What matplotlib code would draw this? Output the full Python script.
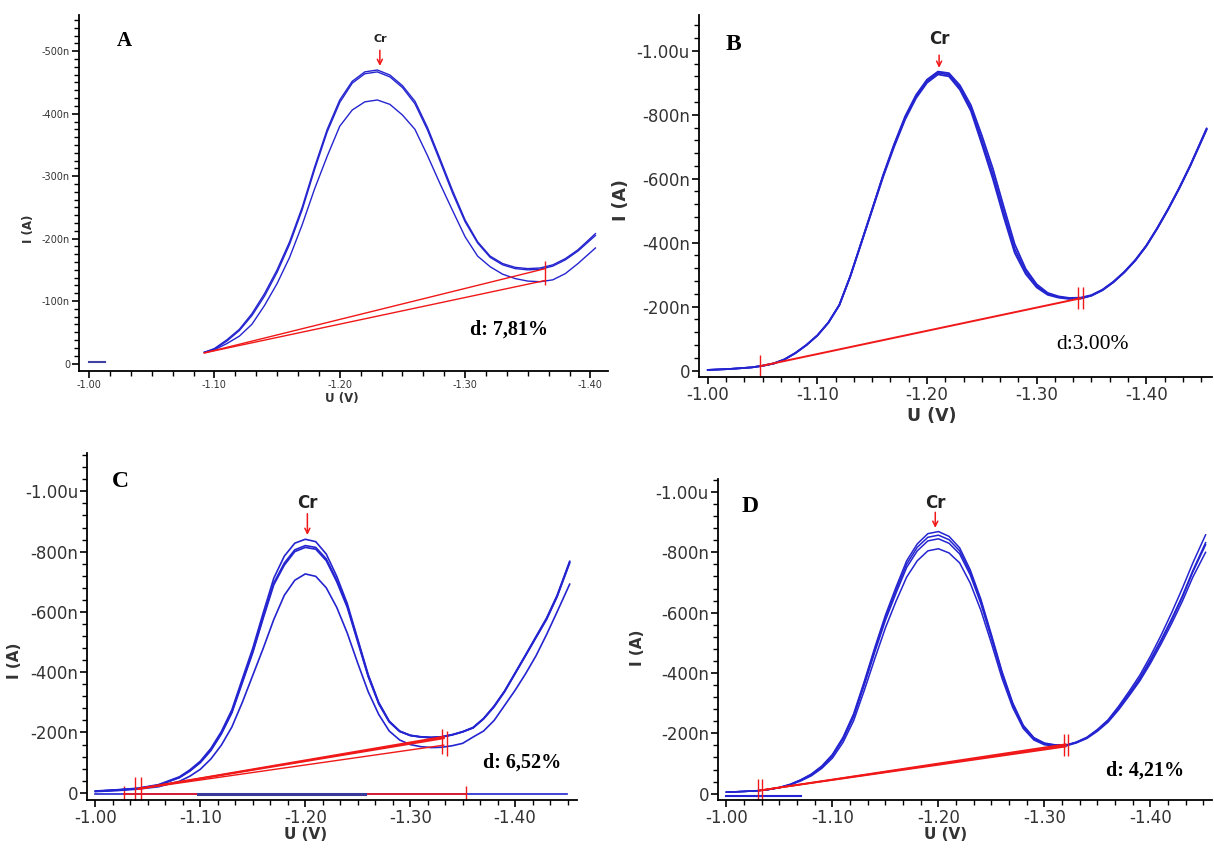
import numpy as np
import matplotlib
matplotlib.use('Agg')
import matplotlib.pyplot as plt
from matplotlib.ticker import MultipleLocator, FuncFormatter

# ---- panel A (current in nA, potential in V) ----
U_A = [-1.092, -1.10, -1.11, -1.12, -1.13, -1.14, -1.15, -1.16, -1.17, -1.18, -1.19, -1.20, -1.21, -1.22,
       -1.23, -1.24, -1.25, -1.26, -1.27, -1.28, -1.29, -1.30, -1.31, -1.32, -1.33, -1.34, -1.35, -1.36,
       -1.37, -1.38, -1.39, -1.404]
I_A1 = [-18, -24, -38, -55, -80, -112, -150, -195, -250, -315, -375, -422, -452, -467, -470, -462, -445,
        -420, -378, -328, -277, -230, -195, -172, -160, -154, -152, -153, -158, -168, -182, -208]
I_A2 = [-18, -23, -36, -53, -77, -108, -146, -191, -246, -311, -371, -418, -449, -464, -467, -459, -442,
        -416, -374, -324, -273, -227, -193, -170, -158, -152, -150, -151, -156, -166, -180, -205]
I_A3 = [-18, -22, -32, -44, -63, -93, -128, -170, -222, -280, -332, -380, -406, -419, -422, -415, -398,
        -375, -333, -288, -245, -203, -172, -155, -143, -136, -132, -131, -134, -144, -160, -185]
base_A_U = [-1.092, -1.364]
base_A_I1 = [-17, -152]
base_A_I2 = [-17, -133]
mark_A_U = [-1.364]
mark_A_I = [-145]
dash_A_U = [-1.000, -1.013]
dash_A_I = [-2, -2]

# ---- panel B ----
U_B = [-1.00, -1.02, -1.04, -1.05, -1.06, -1.07, -1.08, -1.09, -1.10, -1.11, -1.12, -1.13, -1.14, -1.15,
       -1.16, -1.17, -1.18, -1.19, -1.20, -1.21, -1.22, -1.23, -1.24, -1.25, -1.26, -1.27, -1.28, -1.29,
       -1.30, -1.31, -1.32, -1.33, -1.34, -1.35, -1.36, -1.37, -1.38, -1.39, -1.40, -1.41, -1.42, -1.43,
       -1.44, -1.455]
I_B1 = [-2, -5, -10, -15, -22, -35, -55, -80, -110, -150, -205, -295, -400, -505, -610, -705, -790, -858,
        -905, -931, -925, -885, -820, -720, -615, -495, -380, -310, -265, -240, -230, -225, -226, -235,
        -252, -277, -308, -345, -390, -445, -505, -570, -640, -755]
I_B2 = [-2, -5, -10, -15, -22, -35, -55, -80, -110, -150, -205, -295, -400, -505, -612, -708, -795, -862,
        -910, -935, -930, -892, -830, -735, -632, -512, -395, -318, -270, -243, -232, -227, -228, -236,
        -253, -278, -309, -346, -391, -446, -506, -571, -641, -757]
I_B3 = [-2, -5, -10, -15, -22, -35, -55, -80, -110, -150, -205, -295, -398, -502, -606, -700, -785, -852,
        -900, -926, -920, -878, -812, -708, -600, -480, -368, -302, -260, -237, -228, -224, -225, -234,
        -251, -276, -307, -344, -389, -444, -504, -569, -639, -753]
base_B_U = [-1.048, -1.34]
base_B_I = [-14, -226]
mark_B_U = [-1.048, -1.338, -1.342]
mark_B_I = [-14, -226, -226]

# ---- panel C ----
U_C = [-1.00, -1.02, -1.04, -1.06, -1.08, -1.09, -1.10, -1.11, -1.12, -1.13, -1.14, -1.15, -1.16, -1.17,
       -1.18, -1.19, -1.20, -1.21, -1.22, -1.23, -1.24, -1.25, -1.26, -1.27, -1.28, -1.29, -1.30, -1.31,
       -1.32, -1.33, -1.34, -1.35, -1.36, -1.37, -1.38, -1.39, -1.40, -1.41, -1.42, -1.43, -1.44, -1.452]
I_C1 = [-5, -9, -14, -25, -50, -72, -100, -140, -195, -265, -365, -465, -580, -690, -755, -800, -814, -808,
        -770, -700, -615, -500, -385, -295, -235, -203, -190, -185, -183, -185, -192, -202, -215, -245,
        -285, -335, -395, -455, -515, -575, -650, -762]
I_C2 = [-6, -10, -15, -27, -53, -76, -105, -147, -203, -275, -378, -480, -598, -712, -785, -828, -841, -833,
        -792, -718, -628, -510, -392, -300, -238, -205, -191, -186, -184, -186, -193, -203, -217, -247,
        -288, -338, -398, -458, -519, -580, -655, -768]
I_C3 = [-5, -9, -14, -25, -51, -73, -102, -142, -198, -268, -369, -470, -585, -696, -762, -806, -820, -814,
        -776, -705, -620, -505, -388, -297, -236, -204, -190, -185, -183, -185, -192, -202, -216, -246,
        -287, -337, -396, -456, -517, -577, -652, -765]
I_C4 = [-4, -7, -12, -20, -38, -55, -78, -112, -158, -218, -300, -390, -480, -575, -655, -705, -726, -718,
        -680, -615, -530, -430, -335, -260, -205, -175, -160, -153, -150, -151, -156, -164, -185, -205,
        -240, -290, -340, -395, -455, -525, -600, -692]
base_C_U = [-1.041, -1.332]
base_C_I1 = [-13, -186]
base_C_I2 = [-13, -181]
base_C_I3 = [-13, -158]
mark_C_U = [-1.038, -1.043, -1.330, -1.335]
mark_C_I = [-13, -13, -172, -165]
floor_C_U = [-1.00, -1.449]
floor_C_I = [5, 5]
floor_red_C_U = [-1.027, -1.353]
floor_red_C_I = [5, 5]
floor_dark_C_U = [-1.098, -1.257]
floor_dark_C_I = [5, 5]

# ---- panel D ----
U_D = [-1.00, -1.02, -1.03, -1.04, -1.05, -1.06, -1.07, -1.08, -1.09, -1.10, -1.11, -1.12, -1.13, -1.14,
       -1.15, -1.16, -1.17, -1.18, -1.19, -1.20, -1.21, -1.22, -1.23, -1.24, -1.25, -1.26, -1.27, -1.28,
       -1.29, -1.30, -1.31, -1.32, -1.33, -1.34, -1.35, -1.36, -1.37, -1.38, -1.39, -1.40, -1.41, -1.42,
       -1.43, -1.44, -1.452]
I_D1 = [-5, -8, -10, -14, -20, -30, -44, -62, -88, -125, -180, -255, -360, -470, -575, -665, -750, -805,
        -838, -845, -830, -795, -725, -630, -515, -395, -295, -222, -182, -165, -160, -160, -170, -185,
        -210, -240, -282, -330, -380, -440, -505, -575, -650, -735, -825]
I_D2 = [-5, -8, -10, -14, -21, -31, -46, -65, -92, -130, -187, -265, -372, -485, -592, -685, -772, -828,
        -862, -869, -853, -815, -742, -645, -527, -405, -302, -227, -186, -168, -162, -161, -171, -187,
        -213, -245, -290, -340, -393, -456, -525, -600, -680, -765, -858]
I_D3 = [-5, -8, -10, -14, -20, -30, -45, -63, -90, -128, -184, -260, -366, -478, -584, -675, -761, -817,
        -850, -857, -842, -805, -733, -637, -520, -400, -298, -224, -184, -166, -161, -160, -170, -186,
        -211, -242, -284, -333, -384, -445, -510, -580, -655, -740, -832]
I_D4 = [-5, -8, -10, -14, -20, -29, -42, -59, -84, -118, -170, -242, -342, -448, -550, -638, -718, -772,
        -805, -812, -798, -765, -698, -608, -498, -382, -286, -216, -178, -162, -158, -158, -168, -183,
        -207, -237, -278, -325, -374, -432, -496, -564, -637, -718, -800]
base_D_U = [-1.032, -1.32]
base_D_I1 = [-11, -160]
base_D_I2 = [-11, -156]
base_D_I3 = [-11, -164]
mark_D_U = [-1.030, -1.034, -1.318, -1.322]
mark_D_I = [-11, -11, -160, -160]
dash_D_U = [-1.00, -1.07]
dash_D_I = [7, 7]

# peak labels: (U, label I, arrow start I, arrow tip I)
peak_A = (-1.232, -519, -506, -472)
peak_B = (-1.211, -1037, -995, -938)
peak_C = (-1.202, -961, -935, -846)
peak_D = (-1.197, -963, -942, -872)

BLUE = '#2424d0'
RED = '#f01818'
D_FONT = 'Liberation Serif'


def fmt_current(v, pos):
    if abs(v) < 1e-6:
        return "0"
    if abs(v) >= 999:
        return f"{v / 1000:.2f}u"
    return f"{v:.0f}n"


def style_axis(ax, xlim, ylim, ymaj, ymin, fs, lab_fs, ylab_xy, xlab_xy):
    ax.set_xlim(*xlim)
    ax.set_ylim(*ylim)
    for s in ['top', 'right']:
        ax.spines[s].set_visible(False)
    for s in ['left', 'bottom']:
        ax.spines[s].set_linewidth(1.3)
    ax.xaxis.set_major_locator(MultipleLocator(0.1))
    ax.xaxis.set_minor_locator(MultipleLocator(0.1 / 6))
    ax.yaxis.set_major_locator(MultipleLocator(ymaj))
    ax.yaxis.set_minor_locator(MultipleLocator(ymin))
    ax.xaxis.set_major_formatter(FuncFormatter(lambda v, p: f"{v:.2f}"))
    ax.yaxis.set_major_formatter(FuncFormatter(fmt_current))
    ax.tick_params(which='major', direction='out', length=5, width=1.2, labelsize=fs,
                   labelcolor='#333333', pad=1.5)
    ax.tick_params(which='minor', direction='out', length=3.5, width=1.0)
    ax.set_xlabel("U (V)", fontsize=lab_fs, fontweight='bold', color='#333333')
    ax.set_ylabel("I (A)", fontsize=lab_fs, fontweight='bold', color='#333333')
    ax.yaxis.set_label_coords(*ylab_xy)
    ax.xaxis.set_label_coords(*xlab_xy)


def draw_peak(ax, peak, fs):
    u, lab, start, tip = peak
    ax.annotate('', xy=(u, tip), xytext=(u, start),
                arrowprops=dict(arrowstyle='->', color=RED, lw=1.1, mutation_scale=9))
    ax.text(u, lab, "Cr", fontsize=fs, fontweight='bold', ha='center', va='center', color='#222222')


fig = plt.figure(figsize=(12.14, 8.5), dpi=100)
fig.patch.set_facecolor('white')

axA = fig.add_axes([0.0651, 0.5635, 0.4357, 0.4188])
axB = fig.add_axes([0.5758, 0.5565, 0.4226, 0.4259])
axC = fig.add_axes([0.0717, 0.0588, 0.4036, 0.4082])
axD = fig.add_axes([0.5914, 0.0588, 0.4069, 0.3776])

# A
for I in (I_A1, I_A2, I_A3):
    axA.plot(U_A, I, color=BLUE, lw=1.0)
axA.plot(base_A_U, base_A_I1, color=RED, lw=1.0)
axA.plot(base_A_U, base_A_I2, color=RED, lw=1.0)
axA.plot(mark_A_U, mark_A_I, marker='|', ms=17, mew=1.0, color=RED, ls='none')
axA.plot(dash_A_U, dash_A_I, color='#4040a0', lw=1.5)
draw_peak(axA, peak_A, 8)
axA.text(-1.028, -516, "A", fontsize=15, fontweight='bold', family='Liberation Serif', ha='center', va='center')
axA.text(-1.335, -55, "d: 7,81%", fontsize=14.5, fontweight='bold', family=D_FONT, ha='center', va='center')
style_axis(axA, (-0.992, -1.414), (12, -558), 100, 12.5, 7, 8.5, (-0.083, 0.40), (0.497, -0.058))

# B
for I in (I_B1, I_B2, I_B3):
    axB.plot(U_B, I, color=BLUE, lw=1.3)
axB.plot(base_B_U, base_B_I, color=RED, lw=1.4)
axB.plot(mark_B_U, mark_B_I, marker='|', ms=16, mew=1.0, color=RED, ls='none')
draw_peak(axB, peak_B, 12)
axB.text(-1.023, -1021, "B", fontsize=17, fontweight='bold', family='Liberation Serif', ha='center', va='center')
axB.text(-1.351, -80, "d:3.00%", fontsize=15.5, family=D_FONT, ha='center', va='center')
style_axis(axB, (-0.992, -1.46), (20, -1112), 200, 40, 12, 12.5, (-0.134, 0.489), (0.454, -0.082))

# C
axC.plot(floor_C_U, floor_C_I, color=BLUE, lw=1.2)
axC.plot(floor_red_C_U, floor_red_C_I, color=RED, lw=1.2)
axC.plot(floor_dark_C_U, floor_dark_C_I, color='#3a3a9a', lw=2.2)
axC.plot(floor_red_C_U, floor_red_C_I, marker='|', ms=12, mew=1.0, color=RED, ls='none')
for I in (I_C1, I_C2, I_C3, I_C4):
    axC.plot(U_C, I, color=BLUE, lw=1.2)
axC.plot(base_C_U, base_C_I1, color=RED, lw=1.4)
axC.plot(base_C_U, base_C_I2, color=RED, lw=1.4)
axC.plot(base_C_U, base_C_I3, color=RED, lw=1.0)
axC.plot(mark_C_U, mark_C_I, marker='|', ms=18, mew=1.0, color=RED, ls='none')
draw_peak(axC, peak_C, 12)
axC.text(-1.024, -1032, "C", fontsize=17, fontweight='bold', family='Liberation Serif', ha='center', va='center')
axC.text(-1.407, -99, "d: 6,52%", fontsize=14.5, fontweight='bold', family=D_FONT, ha='center', va='center')
style_axis(axC, (-0.992, -1.459), (24, -1127), 200, 40, 12, 11, (-0.132, 0.40), (0.445, -0.078))

# D
axD.plot(dash_D_U, dash_D_I, color=BLUE, lw=1.5)
for I in (I_D1, I_D2, I_D3, I_D4):
    axD.plot(U_D, I, color=BLUE, lw=1.1)
for I in (base_D_I1, base_D_I2, base_D_I3):
    axD.plot(base_D_U, I, color=RED, lw=1.2)
axD.plot(mark_D_U, mark_D_I, marker='|', ms=16, mew=1.0, color=RED, ls='none')
draw_peak(axD, peak_D, 12)
axD.text(-1.022, -952, "D", fontsize=17, fontweight='bold', family='Liberation Serif', ha='center', va='center')
axD.text(-1.395, -77, "d: 4,21%", fontsize=14.5, fontweight='bold', family=D_FONT, ha='center', va='center')
style_axis(axD, (-0.992, -1.458), (21, -1043), 200, 40, 12, 11, (-0.148, 0.475), (0.46, -0.084))

fig.savefig("out.png", dpi=100, facecolor='white')
